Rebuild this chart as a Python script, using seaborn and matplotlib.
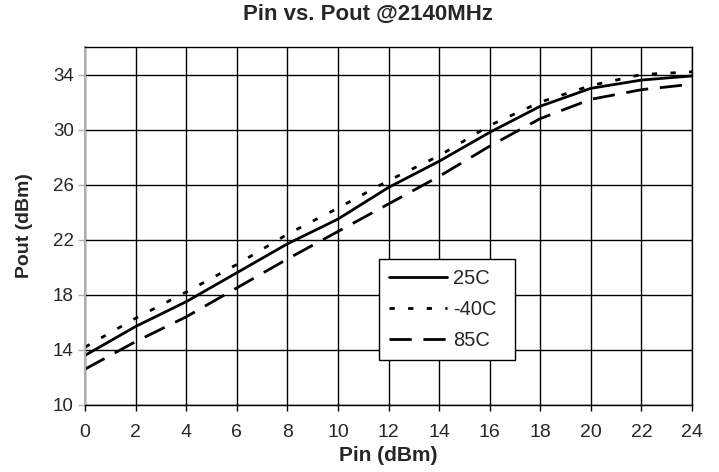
import numpy as np
import pandas as pd
import matplotlib
matplotlib.use("Agg")
import matplotlib.pyplot as plt
import seaborn as sns

# Pin (dBm) sweep and Pout (dBm) per temperature
pin       = [0, 2, 4, 6, 8, 10, 12, 14, 16, 18, 20, 22, 24]
pout_25c  = [13.6, 15.7, 17.5, 19.6, 21.7, 23.5, 25.8, 27.7, 29.8, 31.7, 33.0, 33.6, 33.9]
pout_m40c = [14.2, 16.3, 18.2, 20.2, 22.4, 24.3, 26.3, 28.1, 30.3, 32.0, 33.2, 34.0, 34.2]
pout_85c  = [12.6, 14.6, 16.4, 18.5, 20.6, 22.6, 24.6, 26.6, 28.8, 30.8, 32.2, 32.9, 33.3]
temps     = ["25C", "-40C", "85C"]

x_ticks = list(range(0, 25, 2))
y_ticks = list(range(10, 35, 4))

df = pd.concat([
    pd.DataFrame({"Pin": pin, "Pout": vals, "Temp": t})
    for t, vals in zip(temps, [pout_25c, pout_m40c, pout_85c])
], ignore_index=True)

sns.set_style("white")
plt.rcParams["font.family"] = ["Liberation Sans", "DejaVu Sans"]

fig = plt.figure(figsize=(7.19, 4.72), dpi=100)
ax = fig.add_axes([0.1182, 0.142, 0.8443, 0.7584])

sns.lineplot(data=df, x="Pin", y="Pout", style="Temp", style_order=temps,
             dashes={"25C": "", "-40C": (1.9, 4.8), "85C": (8.0, 4.2)},
             color="black", linewidth=2.0, ax=ax)

ax.set_xlim(0, 24)
ax.set_ylim(10, 36)
ax.set_xticks(x_ticks)
ax.set_yticks(y_ticks)
ax.grid(True, color="black", linewidth=1.0)
ax.set_axisbelow(True)

for side in ["top", "right", "bottom"]:
    ax.spines[side].set_color("black")
    ax.spines[side].set_linewidth(1.0)
ax.spines["left"].set_color("#b0b0b0")
ax.spines["left"].set_linewidth(1.5)

ax.tick_params(axis="x", direction="out", length=4, width=1, color="black",
               labelsize=14, pad=10, bottom=True)
ax.tick_params(axis="y", direction="out", length=5, width=1, color="#b0b0b0",
               labelsize=13.5, pad=3, left=True)

ax.set_xlabel("Pin (dBm)", fontsize=15, fontweight="bold", labelpad=3)
ax.set_ylabel("Pout (dBm)", fontsize=14, fontweight="bold", labelpad=14)
fig.suptitle("Pin vs. Pout @2140MHz", x=0.512, y=0.992, fontsize=16,
             fontweight="bold")

leg = ax.legend(loc="lower left", bbox_to_anchor=(0.484, 0.126, 0.224, 0.279),
                mode="expand", borderaxespad=0, fontsize=14.5, frameon=True,
                fancybox=False, handlelength=2.9, handletextpad=0.3,
                labelspacing=0.6, borderpad=0.5, title=None)
leg.get_frame().set_edgecolor("black")
leg.get_frame().set_linewidth(1.0)
leg.get_frame().set_alpha(1)

fig.savefig("out.png", dpi=100)
